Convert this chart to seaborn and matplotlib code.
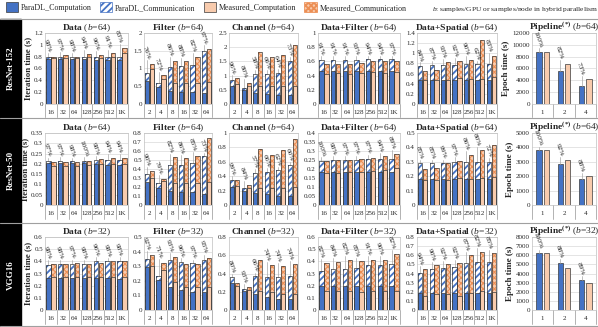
import matplotlib
matplotlib.use("Agg")
import pandas as pd
import matplotlib.pyplot as plt
import matplotlib.transforms as mtransforms
import seaborn as sns
from matplotlib.patches import Patch, Rectangle
from matplotlib.ticker import MultipleLocator, FuncFormatter

# ---- data ----
iter_cats = ['16', '32', '64', '128', '256', '512', '1K']
gpu_cats = ['2', '4', '8', '16', '32', '64']
pipe_cats = ['1', '2', '4']

# ResNet-152
r152_data_comp = [0.76, 0.76, 0.76, 0.76, 0.74, 0.75, 0.74]
r152_data_total = [0.79, 0.79, 0.79, 0.79, 0.79, 0.79, 0.79]
r152_data_mcomp = [0.77, 0.78, 0.77, 0.80, 0.78, 0.80, 0.87]
r152_data_mtotal = [0.80, 0.82, 0.80, 0.85, 0.83, 0.86, 0.95]
r152_data_acc = ['98%', '97%', '98%', '94%', '96%', '91%', '83%']

r152_filter_comp = [0.65, 0.48, 0.38, 0.35, 0.33, 0.31]
r152_filter_total = [0.87, 0.58, 1.05, 1.06, 1.09, 1.50]
r152_filter_mcomp = [0.98, 0.70, 0.60, 0.58, 0.60, 0.62]
r152_filter_mtotal = [1.14, 0.81, 1.22, 1.20, 1.33, 1.55]
r152_filter_acc = ['76%', '72%', '86%', '88%', '82%', '97%']

r152_channel_comp = [0.65, 0.48, 0.38, 0.35, 0.32, 0.30]
r152_channel_total = [0.86, 0.58, 1.06, 1.07, 1.10, 1.52]
r152_channel_mcomp = [0.72, 0.65, 0.65, 0.62, 0.62, 0.62]
r152_channel_mtotal = [0.90, 0.75, 1.83, 1.64, 1.73, 2.08]
r152_channel_acc = ['96%', '80%', '58%', '66%', '64%', '73%']

r152_dfilter_comp = [0.47, 0.47, 0.47, 0.47, 0.47, 0.47, 0.47]
r152_dfilter_total = [0.62, 0.62, 0.62, 0.62, 0.63, 0.63, 0.63]
r152_dfilter_mcomp = [0.42, 0.43, 0.42, 0.43, 0.45, 0.44, 0.45]
r152_dfilter_mtotal = [0.56, 0.57, 0.57, 0.58, 0.60, 0.60, 0.61]
r152_dfilter_acc = ['91%', '91%', '91%', '93%', '94%', '94%', '97%']

r152_dspatial_comp = [0.47, 0.47, 0.47, 0.47, 0.47, 0.47, 0.47]
r152_dspatial_total = [0.75, 0.77, 0.77, 0.77, 0.78, 0.78, 0.79]
r152_dspatial_mcomp = [0.47, 0.47, 0.47, 0.51, 0.49, 0.50, 0.53]
r152_dspatial_mtotal = [0.65, 0.67, 0.82, 0.84, 0.87, 1.27, 0.94]
r152_dspatial_acc = ['84%', '87%', '93%', '92%', '90%', '62%', '83%']

r152_pipe_paradl = [8800, 5600, 3100]
r152_pipe_measured = [8800, 6800, 4200]
r152_pipe_acc = ['100%', '82%', '73%']

# ResNet-50
r50_data_comp = [0.205, 0.205, 0.205, 0.205, 0.200, 0.195, 0.195]
r50_data_total = [0.213, 0.215, 0.213, 0.213, 0.218, 0.220, 0.220]
r50_data_mcomp = [0.190, 0.190, 0.190, 0.195, 0.200, 0.200, 0.200]
r50_data_mtotal = [0.210, 0.208, 0.210, 0.215, 0.222, 0.228, 0.230]
r50_data_acc = ['97%', '97%', '98%', '100%', '98%', '94%', '94%']

r50_filter_comp = [0.26, 0.19, 0.16, 0.14, 0.14, 0.12]
r50_filter_total = [0.34, 0.24, 0.44, 0.45, 0.47, 0.54]
r50_filter_mcomp = [0.30, 0.27, 0.25, 0.24, 0.24, 0.26]
r50_filter_mtotal = [0.38, 0.29, 0.53, 0.52, 0.55, 0.74]
r50_filter_acc = ['90%', '79%', '82%', '86%', '85%', '73%']

r50_channel_comp = [0.25, 0.19, 0.16, 0.15, 0.13, 0.13]
r50_channel_total = [0.35, 0.24, 0.45, 0.46, 0.48, 0.55]
r50_channel_mcomp = [0.27, 0.23, 0.24, 0.24, 0.24, 0.25]
r50_channel_mtotal = [0.35, 0.28, 0.78, 0.70, 0.77, 0.92]
r50_channel_acc = ['99%', '84%', '57%', '66%', '62%', '60%']

r50_dfilter_comp = [0.185, 0.185, 0.185, 0.185, 0.185, 0.185, 0.185]
r50_dfilter_total = [0.245, 0.250, 0.250, 0.250, 0.255, 0.255, 0.255]
r50_dfilter_mcomp = [0.178, 0.180, 0.183, 0.185, 0.190, 0.195, 0.205]
r50_dfilter_mtotal = [0.245, 0.250, 0.250, 0.255, 0.260, 0.270, 0.285]
r50_dfilter_acc = ['100%', '98%', '97%', '97%', '97%', '94%', '89%']

r50_dspatial_comp = [0.18, 0.18, 0.18, 0.18, 0.18, 0.18, 0.18]
r50_dspatial_total = [0.29, 0.29, 0.29, 0.30, 0.30, 0.30, 0.30]
r50_dspatial_mcomp = [0.175, 0.175, 0.175, 0.185, 0.180, 0.185, 0.195]
r50_dspatial_mtotal = [0.250, 0.255, 0.290, 0.305, 0.350, 0.380, 0.415]
r50_dspatial_acc = ['85%', '85%', '99%', '97%', '86%', '80%', '72%']

r50_pipe_paradl = [3800, 2850, 1800]
r50_pipe_measured = [3800, 3100, 2000]
r50_pipe_acc = ['100%', '92%', '88%']

# VGG16
vgg_data_comp = [0.265, 0.26, 0.26, 0.26, 0.26, 0.26, 0.255]
vgg_data_total = [0.37, 0.375, 0.375, 0.375, 0.405, 0.40, 0.40]
vgg_data_mcomp = [0.27, 0.27, 0.27, 0.27, 0.27, 0.275, 0.275]
vgg_data_mtotal = [0.38, 0.38, 0.385, 0.38, 0.39, 0.40, 0.405]
vgg_data_acc = ['98%', '98%', '97%', '98%', '96%', '98%', '98%']

vgg_filter_comp = [0.295, 0.205, 0.16, 0.14, 0.125, 0.12]
vgg_filter_total = [0.35, 0.235, 0.34, 0.33, 0.32, 0.34]
vgg_filter_mcomp = [0.30, 0.275, 0.19, 0.16, 0.155, 0.16]
vgg_filter_mtotal = [0.38, 0.325, 0.365, 0.315, 0.315, 0.355]
vgg_filter_acc = ['92%', '71%', '93%', '96%', '97%', '95%']

vgg_channel_comp = [0.30, 0.21, 0.17, 0.14, 0.12, 0.12]
vgg_channel_total = [0.36, 0.23, 0.37, 0.36, 0.36, 0.37]
vgg_channel_mcomp = [0.26, 0.22, 0.21, 0.20, 0.18, 0.18]
vgg_channel_mtotal = [0.30, 0.25, 0.55, 0.49, 0.48, 0.50]
vgg_channel_acc = ['80%', '93%', '66%', '74%', '74%', '74%']

vgg_dfilter_comp = [0.20, 0.20, 0.20, 0.20, 0.20, 0.20, 0.20]
vgg_dfilter_total = [0.32, 0.335, 0.34, 0.345, 0.37, 0.37, 0.375]
vgg_dfilter_mcomp = [0.16, 0.155, 0.155, 0.15, 0.155, 0.155, 0.16]
vgg_dfilter_mtotal = [0.39, 0.395, 0.415, 0.40, 0.41, 0.415, 0.46]
vgg_dfilter_acc = ['82%', '84%', '82%', '85%', '91%', '90%', '82%']

vgg_dspatial_comp = [0.19, 0.185, 0.185, 0.185, 0.185, 0.185, 0.185]
vgg_dspatial_total = [0.41, 0.45, 0.46, 0.47, 0.52, 0.53, 0.53]
vgg_dspatial_mcomp = [0.15, 0.175, 0.175, 0.155, 0.19, 0.21, 0.20]
vgg_dspatial_mtotal = [0.445, 0.49, 0.50, 0.51, 0.60, 0.64, 0.62]
vgg_dspatial_acc = ['94%', '90%', '92%', '92%', '87%', '82%', '85%']

vgg_pipe_paradl = [6200, 5200, 3300]
vgg_pipe_measured = [6200, 4600, 3000]
vgg_pipe_acc = ['100%', '88%', '89%']

model_names = ['ResNet-152', 'ResNet-50', 'VGG16']
batch_sizes = [64, 64, 32]

# ---- style ----
sns.set_style("white")
plt.rcParams['font.family'] = ['Liberation Serif', 'DejaVu Serif']
plt.rcParams['mathtext.fontset'] = 'custom'
plt.rcParams['mathtext.rm'] = 'Liberation Serif'
plt.rcParams['mathtext.it'] = 'Liberation Serif:italic'
plt.rcParams['mathtext.bf'] = 'Liberation Serif:bold'
plt.rcParams['hatch.linewidth'] = 1.3

BLUE = '#4472C4'
PEACH = '#F8CBAD'
ORANGE = '#EC8F55'
EDGE = '#3A3A3A'
GRID = '#D9D9D9'
W, H = 598, 327

rows = [
    [('Data', iter_cats, r152_data_comp, r152_data_total, r152_data_mcomp, r152_data_mtotal, r152_data_acc, 1.2, 0.2),
     ('Filter', gpu_cats, r152_filter_comp, r152_filter_total, r152_filter_mcomp, r152_filter_mtotal, r152_filter_acc, 2.0, 0.5),
     ('Channel', gpu_cats, r152_channel_comp, r152_channel_total, r152_channel_mcomp, r152_channel_mtotal, r152_channel_acc, 2.5, 0.5),
     ('Data+Filter', iter_cats, r152_dfilter_comp, r152_dfilter_total, r152_dfilter_mcomp, r152_dfilter_mtotal, r152_dfilter_acc, 1.0, 0.2),
     ('Data+Spatial', iter_cats, r152_dspatial_comp, r152_dspatial_total, r152_dspatial_mcomp, r152_dspatial_mtotal, r152_dspatial_acc, 1.4, 0.2),
     ('Pipeline', pipe_cats, r152_pipe_paradl, r152_pipe_measured, r152_pipe_acc, 12000, 2000)],
    [('Data', iter_cats, r50_data_comp, r50_data_total, r50_data_mcomp, r50_data_mtotal, r50_data_acc, 0.35, 0.05),
     ('Filter', gpu_cats, r50_filter_comp, r50_filter_total, r50_filter_mcomp, r50_filter_mtotal, r50_filter_acc, 0.8, 0.1),
     ('Channel', gpu_cats, r50_channel_comp, r50_channel_total, r50_channel_mcomp, r50_channel_mtotal, r50_channel_acc, 1.0, 0.2),
     ('Data+Filter', iter_cats, r50_dfilter_comp, r50_dfilter_total, r50_dfilter_mcomp, r50_dfilter_mtotal, r50_dfilter_acc, 0.4, 0.05),
     ('Data+Spatial', iter_cats, r50_dspatial_comp, r50_dspatial_total, r50_dspatial_mcomp, r50_dspatial_mtotal, r50_dspatial_acc, 0.5, 0.1),
     ('Pipeline', pipe_cats, r50_pipe_paradl, r50_pipe_measured, r50_pipe_acc, 5000, 1000)],
    [('Data', iter_cats, vgg_data_comp, vgg_data_total, vgg_data_mcomp, vgg_data_mtotal, vgg_data_acc, 0.6, 0.1),
     ('Filter', gpu_cats, vgg_filter_comp, vgg_filter_total, vgg_filter_mcomp, vgg_filter_mtotal, vgg_filter_acc, 0.5, 0.1),
     ('Channel', gpu_cats, vgg_channel_comp, vgg_channel_total, vgg_channel_mcomp, vgg_channel_mtotal, vgg_channel_acc, 0.8, 0.2),
     ('Data+Filter', iter_cats, vgg_dfilter_comp, vgg_dfilter_total, vgg_dfilter_mcomp, vgg_dfilter_mtotal, vgg_dfilter_acc, 0.6, 0.1),
     ('Data+Spatial', iter_cats, vgg_dspatial_comp, vgg_dspatial_total, vgg_dspatial_mcomp, vgg_dspatial_mtotal, vgg_dspatial_acc, 0.8, 0.1),
     ('Pipeline', pipe_cats, vgg_pipe_paradl, vgg_pipe_measured, vgg_pipe_acc, 8000, 1000)],
]

row_y = [(33, 104), (133, 205), (237, 310)]
row_band = [(19, 118), (118, 223), (223, 327)]
col_x = [(45, 128), (144, 212), (229, 298), (318, 400), (417, 497), (532, 596)]


def title_text(name, b):
    head, *rest = name.split('+')
    s = r'$\mathbf{' + head + '}'
    for part in rest:
        s += r'\mathbf{+' + part + '}'
    if name == 'Pipeline':
        s += r'^{\mathbf{(*)}}'
    return s + '$ ($b$=' + str(b) + ')'


def set_hatch_lw(p, lw):
    if hasattr(p, 'set_hatch_linewidth'):
        p.set_hatch_linewidth(lw)


def style_axis(ax, cats, ymax, ystep):
    ax.set_ylim(0, ymax)
    ax.set_xlim(-0.5, len(cats) - 0.5)
    ax.yaxis.set_major_locator(MultipleLocator(ystep))
    ax.yaxis.set_major_formatter(FuncFormatter(lambda v, _: f"{v:g}"))
    ax.yaxis.grid(True, color=GRID, lw=0.5)
    ax.set_axisbelow(True)
    ax.tick_params(axis='both', length=0, labelsize=5, pad=1.5)
    ax.tick_params(axis='x', pad=4)
    ax.set_xlabel('')
    ax.set_ylabel('')
    for sp in ax.spines.values():
        sp.set_color('#BFBFBF')
        sp.set_linewidth(0.5)
    # table-like separators under the x axis
    trans = mtransforms.blended_transform_factory(ax.transData, ax.transAxes)
    for b in range(len(cats) + 1):
        ax.plot([b - 0.5, b - 0.5], [0, -0.19], transform=trans, clip_on=False,
                color='#A6A6A6', lw=0.6)


def add_labels(ax, paradl, measured, acc, ymax, xs):
    for x, p, m, a in zip(xs, paradl, measured, acc):
        base = max(p, m) if m - p < 0.2 * ymax else p
        y1 = base + 0.05 * ymax
        ax.plot([x, x], [p, y1], color='#A6A6A6', lw=0.5, zorder=1)
        ax.text(x - 0.05, y1, a, rotation=-70, ha='center', va='bottom',
                fontsize=5.3, color='#202020')


def draw_stacked(ax, cats, comp, total, mcomp, mtotal, acc, ymax, ystep):
    n = len(cats)
    df = pd.DataFrame({'cat': cats * 2,
                       'kind': ['ParaDL'] * n + ['Measured'] * n,
                       'total': total + mtotal,
                       'comp': comp + mcomp})
    kw = dict(data=df, x='cat', hue='kind', order=cats, hue_order=['ParaDL', 'Measured'],
              width=0.86, gap=0.12, legend=False, errorbar=None, ax=ax, saturation=1)
    sns.barplot(y='total', palette={'ParaDL': 'white', 'Measured': PEACH}, **kw)
    sns.barplot(y='comp', palette={'ParaDL': BLUE, 'Measured': PEACH}, **kw)
    pd_tot, m_tot, pd_comp, m_comp = ax.containers[:4]
    for p in pd_tot:
        p.set_facecolor('white')
        p.set_hatch('/////')
        p.set_edgecolor(BLUE)
        p.set_linewidth(0)
        set_hatch_lw(p, 1.3)
    for p in m_tot:
        p.set_facecolor(PEACH)
        p.set_hatch('xxxxxx')
        p.set_edgecolor(ORANGE)
        p.set_linewidth(0)
        set_hatch_lw(p, 0.8)
    for p in list(pd_comp) + list(m_comp):
        p.set_edgecolor(EDGE)
        p.set_linewidth(0.5)
    for p in list(pd_tot) + list(m_tot):
        ax.add_patch(Rectangle(p.get_xy(), p.get_width(), p.get_height(), fill=False,
                               ec=EDGE, lw=0.5, zorder=p.get_zorder() + 0.5))
    style_axis(ax, cats, ymax, ystep)
    xs = [p.get_x() + p.get_width() / 2 for p in pd_tot]
    add_labels(ax, total, mtotal, acc, ymax, xs)


def draw_pipeline(ax, cats, paradl, measured, acc, ymax, ystep):
    n = len(cats)
    df = pd.DataFrame({'cat': cats * 2,
                       'kind': ['ParaDL'] * n + ['Measured'] * n,
                       'time': paradl + measured})
    sns.barplot(data=df, x='cat', y='time', hue='kind', order=cats,
                hue_order=['ParaDL', 'Measured'], palette={'ParaDL': BLUE, 'Measured': PEACH},
                width=0.7, gap=0.3, legend=False, errorbar=None, ax=ax, saturation=1)
    for c in ax.containers:
        for p in c:
            p.set_edgecolor(EDGE)
            p.set_linewidth(0.5)
    style_axis(ax, cats, ymax, ystep)
    xs = [p.get_x() + p.get_width() / 2 for p in ax.containers[0]]
    add_labels(ax, paradl, measured, acc, ymax, xs)
    ax.set_ylabel('Epoch time (s)', fontsize=6.5, fontweight='bold', labelpad=1.5)


fig = plt.figure(figsize=(W / 100, H / 100), dpi=100)

for r, panels in enumerate(rows):
    top, bottom = row_y[r]
    for c, spec in enumerate(panels):
        left, right = col_x[c]
        ax = fig.add_axes([left / W, 1 - bottom / H, (right - left) / W, (bottom - top) / H])
        if spec[0] == 'Pipeline':
            draw_pipeline(ax, *spec[1:])
        else:
            draw_stacked(ax, *spec[1:])
        ax.set_title(title_text(spec[0], batch_sizes[r]), fontsize=6.8, pad=2)
        if c == 0:
            ax.set_ylabel('Iteration time (s)', fontsize=6.3, fontweight='bold', labelpad=1)

    # black model strip on the left
    b0, b1 = row_band[r]
    fig.patches.append(Rectangle((0, 1 - b1 / H), 21 / W, (b1 - b0) / H,
                                 transform=fig.transFigure, color='black', zorder=0))
    fig.text(10.5 / W, 1 - (b0 + b1) / 2 / H, model_names[r], rotation=90, color='white',
             fontsize=6.5, fontweight='bold', ha='center', va='center')

for y in [19, 118, 223, 326]:
    fig.add_artist(plt.Line2D([0, 1], [1 - y / H, 1 - y / H], transform=fig.transFigure,
                              color='#A0A0A0', lw=0.8))

handles = [Patch(facecolor=BLUE, edgecolor=EDGE, lw=0.5),
           Patch(facecolor='white', edgecolor=BLUE, hatch='/////', lw=0.5),
           Patch(facecolor=PEACH, edgecolor=EDGE, lw=0.5),
           Patch(facecolor=PEACH, edgecolor=ORANGE, hatch='xxxxxx', lw=0.5)]
labels = ['ParaDL_Computation', 'ParaDL_Communication', 'Measured_Computation', 'Measured_Communication']
fig.legend(handles, labels, loc='upper left', bbox_to_anchor=(0.0, 1.01), ncol=4, frameon=False,
           fontsize=5.8, handlelength=1.5, handleheight=1.5, handletextpad=0.4, columnspacing=1.0,
           borderpad=0.2)
fig.text(432 / W, 1 - 9 / H, '$b$: samples/GPU or samples/node in hybrid parallelism',
         fontsize=5.4, va='center', ha='left')

fig.savefig('out.png', dpi=100)
